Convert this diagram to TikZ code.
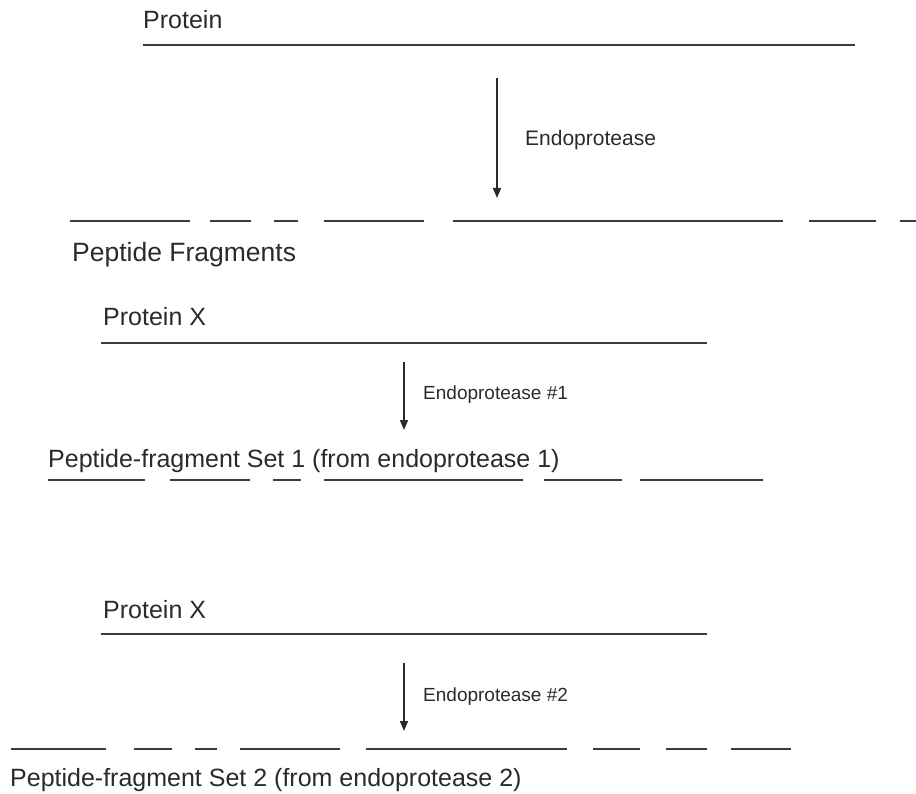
\documentclass[tikz,border=0pt]{standalone}
\usepackage{fontspec}
\setmainfont{Liberation Sans}
\usetikzlibrary{arrows.meta}
\definecolor{ink}{HTML}{2A2A2A}
\definecolor{linegray}{HTML}{3C3C3C}
\begin{document}
\begin{tikzpicture}[x=1pt,y=-1pt,
  lbl/.style={anchor=base west,inner sep=0pt,text=ink,font=\fontsize{25}{28}\selectfont},
  elbl/.style={anchor=west,inner sep=0pt,text=ink,font=\fontsize{21}{24}\selectfont},
  slbl/.style={anchor=west,inner sep=0pt,text=ink,font=\fontsize{19}{22}\selectfont},
  protline/.style={draw=linegray,line width=1.5pt},
  frag/.style={draw=linegray,line width=2pt},
  cut/.style={draw=ink,line width=1.4pt,-{Triangle[length=10pt,width=8pt]}}]
\useasboundingbox (0,0) rectangle (916,794);
% ---- block 1
\node[lbl] (p0) at (143,29) {Protein};
\coordinate (l0a) at (143,45); \coordinate (l0b) at (855,45);
\draw[protline] (l0a) -- (l0b);
\coordinate (a0s) at (497,78); \coordinate (a0e) at (497,198);
\draw[cut] (a0s) -- (a0e);
\node[elbl] (e0) at (525,140) {Endoprotease};
\foreach \a/\b in {70/190,210/251,274/298,324/424,453/783,809/876,900/916}
  \draw[frag] (\a,221) -- (\b,221);
\node[lbl,font=\fontsize{26.5}{30}\selectfont] (pf) at (72,262) {Peptide Fragments};
% ---- block 2
\node[lbl] (p1) at (103,326) {Protein X};
\coordinate (l1a) at (101,343); \coordinate (l1b) at (707,343);
\draw[protline] (l1a) -- (l1b);
\coordinate (a1s) at (404,362); \coordinate (a1e) at (404,430);
\draw[cut] (a1s) -- (a1e);
\node[slbl] (e1) at (423,395) {Endoprotease \#1};
\node[lbl] (s1) at (48,467) {Peptide-fragment Set 1 (from endoprotease 1)};
\foreach \a/\b in {48/145,170/250,273/301,324/523,544/622,640/763}
  \draw[frag] (\a,480) -- (\b,480);
% ---- block 3
\node[lbl] (p2) at (103,618) {Protein X};
\coordinate (l2a) at (101,634); \coordinate (l2b) at (707,634);
\draw[protline] (l2a) -- (l2b);
\coordinate (a2s) at (404,663); \coordinate (a2e) at (404,731);
\draw[cut] (a2s) -- (a2e);
\node[slbl] (e2) at (423,697) {Endoprotease \#2};
\foreach \a/\b in {11/106,134/172,195/217,240/340,366/567,593/640,666/707,731/791}
  \draw[frag] (\a,749) -- (\b,749);
\node[lbl] (s2) at (10,786) {Peptide-fragment Set 2 (from endoprotease 2)};
\end{tikzpicture}
\end{document}
